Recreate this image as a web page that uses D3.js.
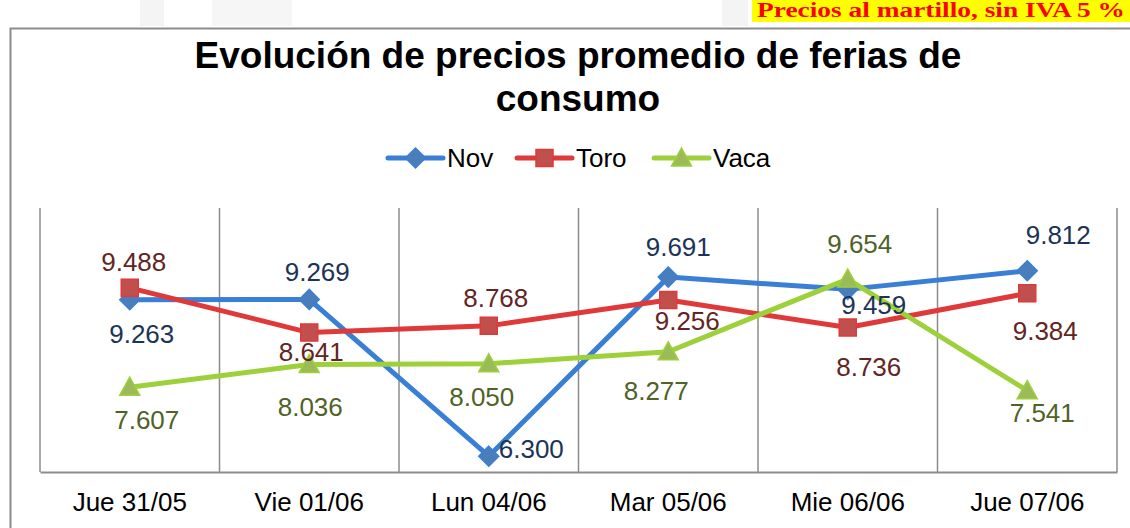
<!DOCTYPE html>
<html>
<head>
<meta charset="utf-8">
<script src="https://cdn.jsdelivr.net/npm/d3@7"></script>
<style>
  body { margin: 0; background: #fff; }
  svg { display: block; font-family: "Liberation Sans", Arial, sans-serif; }
</style>
</head>
<body>
<div id="chart"></div>
<script>
// categories and series values
var categories = ["Jue 31/05", "Vie 01/06", "Lun 04/06", "Mar 05/06", "Mie 06/06", "Jue 07/06"];
var novValues = [9.263, 9.269, 6.300, 9.691, 9.459, 9.812];
var toroValues = [9.488, 8.641, 8.768, 9.256, 8.736, 9.384];
var vacaValues = [7.607, 8.036, 8.050, 8.277, 9.654, 7.541];
var seriesNames = ["Nov", "Toro", "Vaca"];
var yDomain = [6, 11];

var width = 1130, height = 528;
var plot = {left: 40, right: 1117, top: 208, bottom: 472};

// label placement per point (dx, dy from the marker), kept apart from the data
var labelOffsets = {
    Nov:  [[12, 43], [8, -18], [10, 2, "start"], [10, -21], [26, 25], [31, -27]],
    Toro: [[4, -17], [2, 28], [7, -19], [19, 30], [21, 48], [18, 47]],
    Vaca: [[17, 42], [1, 52], [-7, 42], [-12, 48], [12, -26], [15, 31]]
};

var styles = {
    Nov:  {line: "#3a7fd6", fill: "#4a7ebb", stroke: "#3a7fd6", label: "#1b3456", shape: "diamond"},
    Toro: {line: "#e0393a", fill: "#c0504d", stroke: "#e0393a", label: "#632523", shape: "square"},
    Vaca: {line: "#9dd03a", fill: "#9bbb59", stroke: "#9dd03a", label: "#4f6228", shape: "triangle"}
};

var seriesData = [
    {name: "Nov", values: novValues},
    {name: "Toro", values: toroValues},
    {name: "Vaca", values: vacaValues}
];

var svg = d3.select("#chart").append("svg")
    .attr("width", width)
    .attr("height", height);

// header strip: faded background bits and the yellow note
svg.append("rect").attr("x", 140).attr("y", 0).attr("width", 24).attr("height", 26).attr("fill", "#f4f4f4");
svg.append("rect").attr("x", 212).attr("y", 0).attr("width", 80).attr("height", 26).attr("fill", "#f6f6f6");
svg.append("rect").attr("x", 722).attr("y", 0).attr("width", 26).attr("height", 26).attr("fill", "#f4f4f4");
svg.append("rect").attr("x", 752).attr("y", 0).attr("width", 378).attr("height", 22).attr("fill", "#ffff00");
svg.append("text")
    .attr("x", 757).attr("y", 17)
    .attr("textLength", 368).attr("lengthAdjust", "spacingAndGlyphs")
    .style("font-family", "'Liberation Serif', 'Times New Roman', serif")
    .style("font-weight", "bold").style("font-size", "20px")
    .attr("fill", "#ff0000")
    .text("Precios al martillo, sin IVA 5 %");

// chart area border
svg.append("path")
    .attr("d", "M10.5," + height + "V28.5H" + width)
    .attr("fill", "none").attr("stroke", "#8c8c8c").attr("stroke-width", 2);

// title
var title = svg.append("text")
    .attr("text-anchor", "middle")
    .style("font-weight", "bold").style("font-size", "37px")
    .attr("fill", "#000");
title.append("tspan").attr("x", 578).attr("y", 68).text("Evolución de precios promedio de ferias de");
title.append("tspan").attr("x", 578).attr("y", 111).text("consumo");

var x = d3.scaleBand().domain(categories).range([plot.left, plot.right]).padding(0);
var y = d3.scaleLinear().domain(yDomain).range([plot.bottom, plot.top]);

// vertical category gridlines
var edges = categories.map(function (c) { return x(c); }).concat([plot.right]);
svg.append("g").selectAll("line").data(edges).enter().append("line")
    .attr("x1", function (d) { return d; }).attr("x2", function (d) { return d; })
    .attr("y1", plot.top).attr("y2", plot.bottom)
    .attr("stroke", "#8c8c8c").attr("stroke-width", 1.5);

// x axis
var xAxis = d3.axisBottom(x).tickSize(0).tickPadding(21);
var gx = svg.append("g").attr("transform", "translate(0," + plot.bottom + ")").call(xAxis);
gx.select(".domain").attr("stroke", "#8c8c8c").attr("stroke-width", 2);
gx.selectAll("text").style("font-size", "26px").style("font-family", "'Liberation Sans', Arial, sans-serif").attr("fill", "#000");

function markerPath(shape) {
    if (shape === "diamond") return "M0,-10L10,0L0,10L-10,0Z";
    if (shape === "square") return "M-8.5,-8.5H8.5V8.5H-8.5Z";
    return "M0,-10L10,8H-10Z";
}

var line = d3.line()
    .x(function (d, i) { return x(categories[i]) + x.bandwidth() / 2; })
    .y(function (d) { return y(d); });

var g = svg.append("g").attr("class", "series");
seriesData.forEach(function (s) {
    var st = styles[s.name];
    g.append("path")
        .datum(s.values)
        .attr("d", line)
        .attr("fill", "none")
        .attr("stroke", st.line)
        .attr("stroke-width", 5)
        .attr("stroke-linejoin", "round")
        .attr("stroke-linecap", "round");
});
seriesData.forEach(function (s) {
    var st = styles[s.name];
    g.selectAll(".m-" + s.name).data(s.values).enter().append("path")
        .attr("class", "m-" + s.name)
        .attr("transform", function (d, i) {
            return "translate(" + (x(categories[i]) + x.bandwidth() / 2) + "," + y(d) + ")";
        })
        .attr("d", markerPath(st.shape))
        .attr("fill", st.fill)
        .attr("stroke", st.stroke)
        .attr("stroke-width", 1.5);
});

// data labels
seriesData.forEach(function (s) {
    var st = styles[s.name];
    g.selectAll(".l-" + s.name).data(s.values).enter().append("text")
        .attr("class", "l-" + s.name)
        .attr("x", function (d, i) { return x(categories[i]) + x.bandwidth() / 2 + labelOffsets[s.name][i][0]; })
        .attr("y", function (d, i) { return y(d) + labelOffsets[s.name][i][1]; })
        .attr("text-anchor", function (d, i) { return labelOffsets[s.name][i][2] || "middle"; })
        .style("font-size", "26px")
        .attr("fill", st.label)
        .text(function (d) { return d3.format(".3f")(d); });
});

// legend
var legend = svg.append("g").attr("transform", "translate(0,158)");
var legendX = [388, 517, 654];
seriesNames.forEach(function (name, i) {
    var st = styles[name];
    var lg = legend.append("g").attr("transform", "translate(" + legendX[i] + ",0)");
    lg.append("line").attr("x1", 0).attr("x2", 55).attr("y1", 0).attr("y2", 0)
        .attr("stroke", st.line).attr("stroke-width", 5).attr("stroke-linecap", "round");
    lg.append("path").attr("transform", "translate(27.5,0)")
        .attr("d", markerPath(st.shape))
        .attr("fill", st.fill).attr("stroke", st.stroke).attr("stroke-width", 1.5);
    lg.append("text").attr("x", 59).attr("y", 9)
        .style("font-size", "26px").attr("fill", "#000").text(name);
});
</script>
</body>
</html>
